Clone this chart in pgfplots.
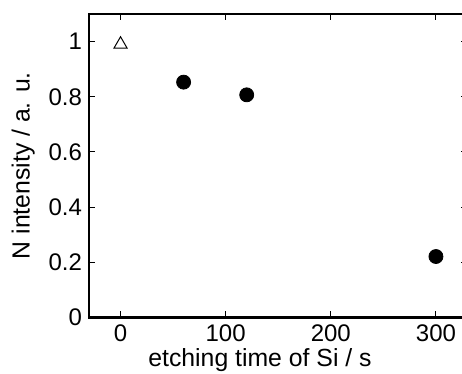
\documentclass[border=0pt]{standalone}
\usepackage{fontspec}
\setmainfont{Liberation Sans}
\usepackage{pgfplots}
\pgfplotsset{compat=1.18}
\begin{document}
\begin{tikzpicture}
\useasboundingbox (-44.5pt,-28.25pt) rectangle (186.5pt,158.75pt);
\clip (-44.5pt,-28.25pt) rectangle (186.5pt,158.75pt);
\begin{axis}[
  at={(0pt,0pt)}, anchor=south west,
  scale only axis, width=189.25pt, height=151.75pt,
  xmin=-30, xmax=330, ymin=0, ymax=1.1,
  xtick={0,100,200,300}, ytick={0,0.2,0.4,0.6,0.8,1},
  yticklabels={0,0.2,0.4,0.6,0.8,1},
  xticklabels={0,100,200,300},
  tick align=inside, major tick length=3pt,
  tick style={black, line width=0.5pt},
  axis line style={line width=1.3pt},
  /pgf/number format/assume math mode=true,
  tick label style={font=\fontsize{12}{14}\selectfont},
  label style={font=\fontsize{12.4}{14}\selectfont},
  xlabel={etching time of Si / s},
  ylabel={N intensity / a. u.},
  xlabel style={at={(axis description cs:0.4518,0)}, anchor=base, yshift=-24.6pt},
]
\addplot[only marks, mark=triangle, mark size=3.8pt, mark options={line width=0.5pt, fill=white}] coordinates {(0,0.99)};
\addplot[only marks, mark=*, mark size=3.5pt, mark options={fill=black}] coordinates {(60,0.853) (120,0.807) (300,0.221)};
\end{axis}
\end{tikzpicture}
\end{document}
